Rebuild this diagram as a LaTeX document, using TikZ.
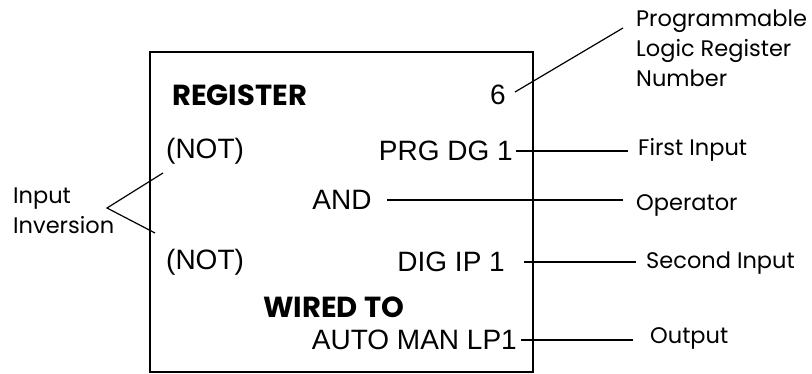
\documentclass[tikz,border=0pt]{standalone}
\usepackage{fontspec}
\setmainfont{Poppins}
\newfontfamily\regfont{Liberation Sans}
\usetikzlibrary{positioning}
\tikzset{
  plr/entry/.style={font=\regfont\fontsize{28}{32}\selectfont, inner sep=0pt},
  plr/title/.style={font=\fontsize{29}{32}\selectfont\bfseries, inner sep=0pt},
  plr/note/.style={font=\fontsize{22.5}{30}\selectfont, inner sep=0pt,
    align=left, anchor=west},
  plr/lead/.style={line width=1.2pt, draw=black}
}

\begin{document}
\begin{tikzpicture}[x=1pt,y=-1pt]
  \useasboundingbox (0,0) rectangle (812,374);
  \draw[line width=1.6pt] (150,52) rectangle (533,372);
  % register contents
  \node[plr/title,anchor=west] (reg) at (172,95) {REGISTER};
  \node[plr/entry,anchor=east] (num) at (506,95) {6};
  \node[plr/entry,anchor=west] (not1) at (166,151) {(NOT)};
  \node[plr/entry,anchor=east] (in1) at (513,151) {PRG DG 1};
  \node[plr/entry] (op) at (342,200) {AND};
  \node[plr/entry,anchor=west] (not2) at (166,262) {(NOT)};
  \node[plr/entry,anchor=east] (in2) at (505,262) {DIG IP 1};
  \node[plr/title,anchor=west] (wired) at (263,307) {WIRED TO};
  \node[plr/entry,anchor=east] (out) at (517,340) {AUTO MAN LP1};
  % callouts
  \node[plr/note] (regnote) at (636,48) {Programmable\\Logic Register\\Number};
  \node[plr/note] (in1note) at (638,150) {First Input};
  \node[plr/note] (opnote) at (636,205) {Operator};
  \node[plr/note] (in2note) at (646,263) {Second Input};
  \node[plr/note] (outnote) at (650,338) {Output};
  \node[plr/note] (invnote) at (13,211) {Input\\Inversion};
  \coordinate (regtip) at (623,28);
  \draw[plr/lead] ([xshift=9pt,yshift=3pt]num.east) -- (regtip);
  \draw[plr/lead] ([xshift=3pt]in1.east) -- ([xshift=-10pt]in1.east -| in1note.west);
  \draw[plr/lead] ([xshift=15pt]op.east) -- ([xshift=-13pt]op.east -| opnote.west);
  \draw[plr/lead] ([xshift=19pt]in2.east) -- ([xshift=-10pt]in2.east -| in2note.west);
  \draw[plr/lead] ([xshift=4pt]out.east) -- ([xshift=-17pt]out.east -| outnote.west);
  \coordinate (inv) at (107,208);
  \coordinate (invtop) at (163,173);
  \coordinate (invbot) at (155,233);
  \draw[plr/lead] (invtop) -- (inv) -- (invbot);
\end{tikzpicture}
\end{document}
